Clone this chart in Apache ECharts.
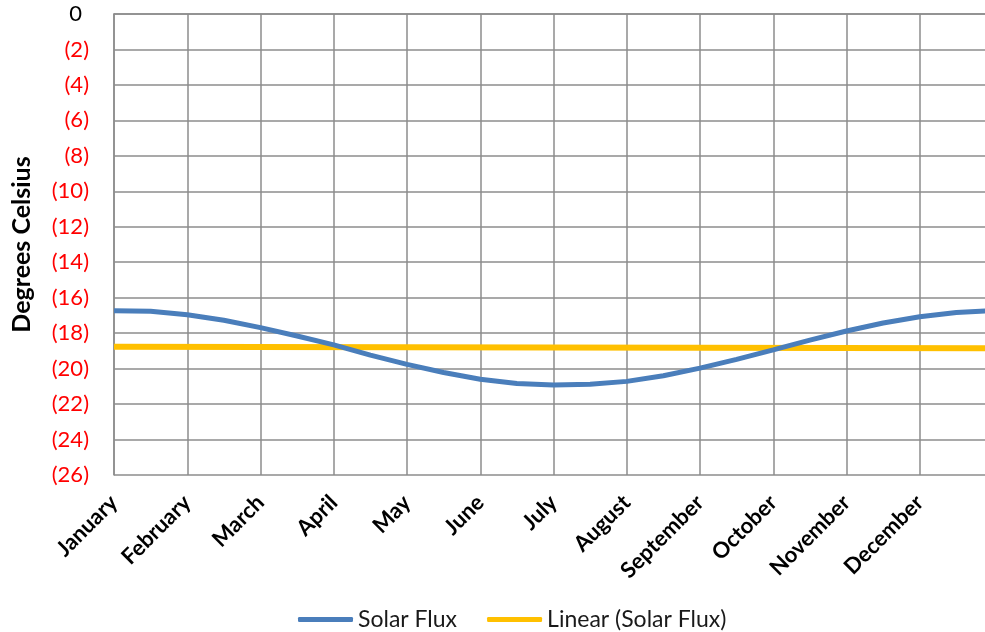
<!DOCTYPE html>
<html>
<head>
<meta charset="utf-8">
<style>
  html, body { margin: 0; padding: 0; background: #fff; }
  #chart { width: 985px; height: 632px; }
</style>
<script src="https://cdn.jsdelivr.net/npm/echarts@6/dist/echarts.min.js"></script>
</head>
<body>
<div id="chart"></div>
<script>
  // month names, one per gridline
  var months = ['January', 'February', 'March', 'April', 'May', 'June', 'July',
    'August', 'September', 'October', 'November', 'December'];
  // position along the year, in months (read every half month)
  var fluxX = [0, 0.5, 1, 1.5, 2, 2.5, 3, 3.5, 4, 4.5, 5, 5.5, 6,
    6.5, 7, 7.5, 8, 8.5, 9, 9.5, 10, 10.5, 11, 11.5, 12];
  var fluxY = [-16.73, -16.76, -16.96, -17.27, -17.69, -18.16, -18.66, -19.24, -19.76, -20.22, -20.6, -20.84, -20.93,
    -20.88, -20.72, -20.4, -19.97, -19.48, -18.94, -18.39, -17.88, -17.43, -17.07, -16.84, -16.72];
  // linear trend end points
  var trendX = [0, 12];
  var trendY = [-18.76, -18.85];

  var fluxData = fluxX.map(function (x, i) { return [x, fluxY[i]]; });
  var trendData = trendX.map(function (x, i) { return [x, trendY[i]]; });

  var font = 'Lato, "Open Sans", sans-serif';
  var gridColor = '#8c8c8c';

  var myChart = echarts.init(document.getElementById('chart'));
  var option = {
    animation: false,
    grid: { left: 114, top: 14, right: -8, bottom: 157, containLabel: false, outerBoundsMode: 'none' },
    legend: {
      left: 293,
      top: 603,
      itemWidth: 55,
      itemHeight: 5,
      itemGap: 30,
      icon: 'roundRect',
      textStyle: { fontFamily: font, fontSize: 23, color: '#1a1a1a' },
      data: ['Solar Flux', 'Linear (Solar Flux)']
    },
    xAxis: {
      type: 'value',
      min: 0,
      max: 12,
      interval: 1,
      axisLine: { show: true, lineStyle: { color: gridColor, width: 1.5 } },
      axisTick: { show: false },
      splitLine: { show: true, lineStyle: { color: gridColor, width: 1.5 } },
      axisLabel: {
        rotate: 45,
        margin: 24,
        fontFamily: font,
        fontSize: 22,
        fontWeight: 'bold',
        color: '#000',
        showMaxLabel: false,
        formatter: function (v) { return months[v] || ''; }
      }
    },
    yAxis: {
      type: 'value',
      min: -26,
      max: 0,
      interval: 2,
      name: 'Degrees Celsius',
      nameLocation: 'middle',
      nameGap: 80,
      nameTextStyle: { fontFamily: font, fontSize: 25, fontWeight: 'bold', color: '#000' },
      axisLine: { show: true, lineStyle: { color: gridColor, width: 1.5 } },
      axisTick: { show: false },
      splitLine: { show: true, lineStyle: { color: gridColor, width: 1.5 } },
      axisLabel: {
        margin: 25,
        fontFamily: font,
        fontSize: 22,
        color: '#ff0000',
        formatter: function (v) {
          return Number(v) === 0 ? '{z|0}' : '(' + Math.abs(v) + ')';
        },
        rich: {
          z: { color: '#000', fontFamily: font, fontSize: 22, padding: [0, 7, 0, 0] }
        }
      }
    },
    series: [{
      name: 'Solar Flux',
      type: 'line',
      data: fluxData,
      showSymbol: false,
      symbol: 'none',
      lineStyle: { color: '#4a7ebb', width: 5 },
      itemStyle: { color: '#4a7ebb' },
      z: 3
    }, {
      name: 'Linear (Solar Flux)',
      type: 'line',
      data: trendData,
      showSymbol: false,
      symbol: 'none',
      lineStyle: { color: '#ffc000', width: 6 },
      itemStyle: { color: '#ffc000' },
      z: 2
    }]
  };
  myChart.setOption(option);
  window.addEventListener('resize', function () {
    myChart.resize();
  });
</script>
</body>
</html>
